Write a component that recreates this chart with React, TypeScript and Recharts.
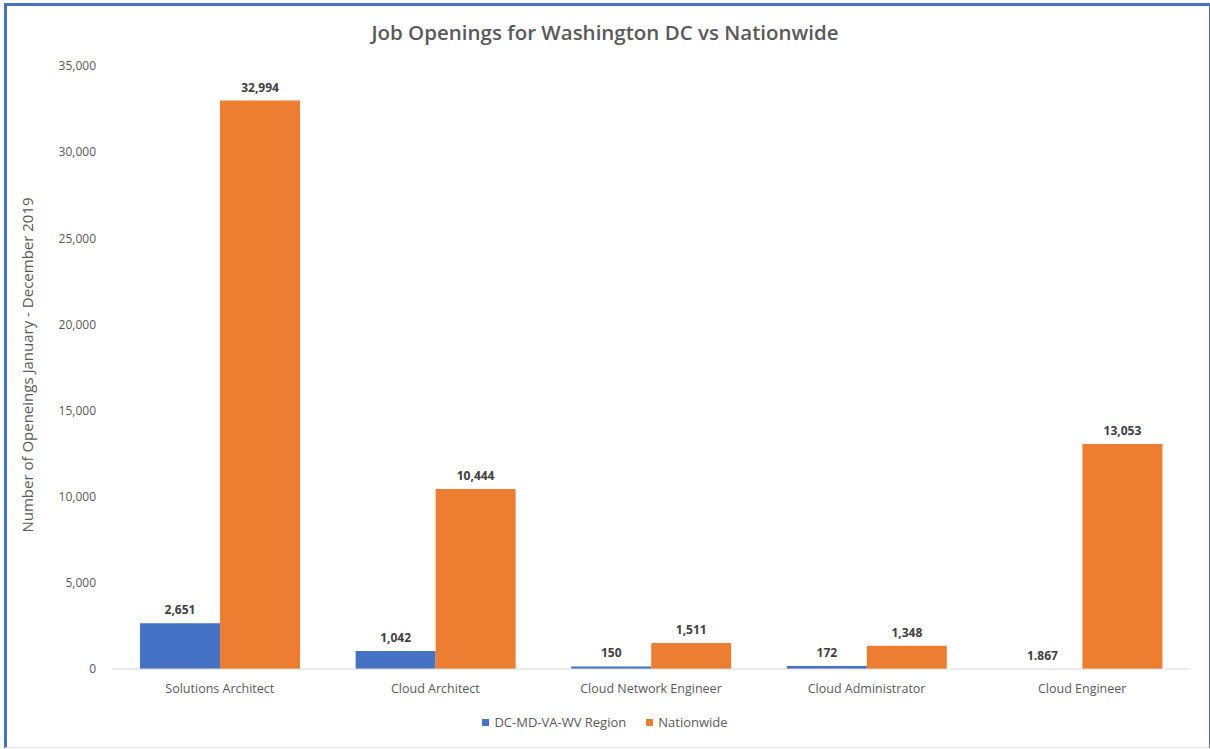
import React from 'react';
import { BarChart, Bar, XAxis, YAxis, LabelList } from 'recharts';

const categories = [
  'Solutions Architect',
  'Cloud Architect',
  'Cloud Network Engineer',
  'Cloud Administrator',
  'Cloud Engineer',
];
const regionValues = [2651, 1042, 150, 172, 1.867];
const nationwideValues = [32994, 10444, 1511, 1348, 13053];
const yTicks = [0, 5000, 10000, 15000, 20000, 25000, 30000, 35000];

const BLUE = '#4472C4';
const ORANGE = '#ED7D31';
const TEXT = '#595959';
const FONT = '"Open Sans", "DejaVu Sans", sans-serif';

const data = categories.map((name, i) => ({
  name,
  region: regionValues[i],
  nationwide: nationwideValues[i],
}));

const fmt = (v: any) => Number(v).toLocaleString('en-US');

const App: React.FC = () => {
  return (
    <div style={{ position: 'absolute', left: 0, top: 0, width: 1210, height: 749, background: '#fff', fontFamily: FONT }}>
      {/* outer frame */}
      <div
        style={{
          position: 'absolute',
          left: 4,
          top: 3,
          width: 1206,
          height: 745,
          boxSizing: 'border-box',
          borderLeft: `3px solid ${BLUE}`,
          borderTop: `3px solid ${BLUE}`,
          borderRight: `1px solid ${BLUE}`,
          borderBottom: '1px solid #e3e3e3',
        }}
      />
      <div
        style={{
          position: 'absolute',
          left: 0,
          top: 18,
          width: 1210,
          textAlign: 'center',
          fontSize: 20.5,
          color: TEXT,
          fontWeight: 600,
        }}
      >
        Job Openings for Washington DC vs Nationwide
      </div>
      <div
        style={{
          position: 'absolute',
          left: 27,
          top: 365,
          transform: 'translate(-50%, -50%) rotate(-90deg)',
          whiteSpace: 'nowrap',
          fontSize: 15,
          color: TEXT,
        }}
      >
        Number of Openeings January - December 2019
      </div>
      <div style={{ position: 'absolute', left: 0, top: 0 }}>
        <BarChart
          width={1210}
          height={749}
          data={data}
          margin={{ top: 66, right: 20, left: 52, bottom: 50 }}
          barCategoryGap="13%"
          barGap={0}
          style={{ fontFamily: FONT }}
        >
          <XAxis
            dataKey="name"
            height={30}
            tickLine={false}
            tickSize={0}
            tickMargin={15}
            axisLine={{ stroke: '#d9d9d9', strokeWidth: 1 }}
            tick={{ fill: TEXT, fontSize: 12.5 }}
            interval={0}
          />
          <YAxis
            width={60}
            domain={[0, 35000]}
            ticks={yTicks}
            axisLine={false}
            tickLine={false}
            tickSize={0}
            tickMargin={16}
            tick={{ fill: TEXT, fontSize: 12 }}
            tickFormatter={(v) => Number(v).toLocaleString('en-US')}
          />
          <Bar dataKey="region" name="DC-MD-VA-WV Region" fill={BLUE} isAnimationActive={false}>
            <LabelList
              dataKey="region"
              position="top"
              offset={9}
              formatter={fmt}
              style={{ fill: '#404040', fontSize: 12, fontWeight: 700 }}
            />
          </Bar>
          <Bar dataKey="nationwide" name="Nationwide" fill={ORANGE} isAnimationActive={false}>
            <LabelList
              dataKey="nationwide"
              position="top"
              offset={9}
              formatter={fmt}
              style={{ fill: '#404040', fontSize: 12, fontWeight: 700 }}
            />
          </Bar>
        </BarChart>
      </div>
      {/* legend */}
      <div
        style={{
          position: 'absolute',
          left: 0,
          top: 713,
          width: 1210,
          display: 'flex',
          justifyContent: 'center',
          fontSize: 13,
          color: TEXT,
          gap: 20,
        }}
      >
        <div style={{ display: 'flex', alignItems: 'center' }}>
          <span style={{ width: 7, height: 7, background: BLUE, marginRight: 5, display: 'inline-block' }} />
          DC-MD-VA-WV Region
        </div>
        <div style={{ display: 'flex', alignItems: 'center' }}>
          <span style={{ width: 7, height: 7, background: ORANGE, marginRight: 5, display: 'inline-block' }} />
          Nationwide
        </div>
      </div>
    </div>
  );
};

export default App;
